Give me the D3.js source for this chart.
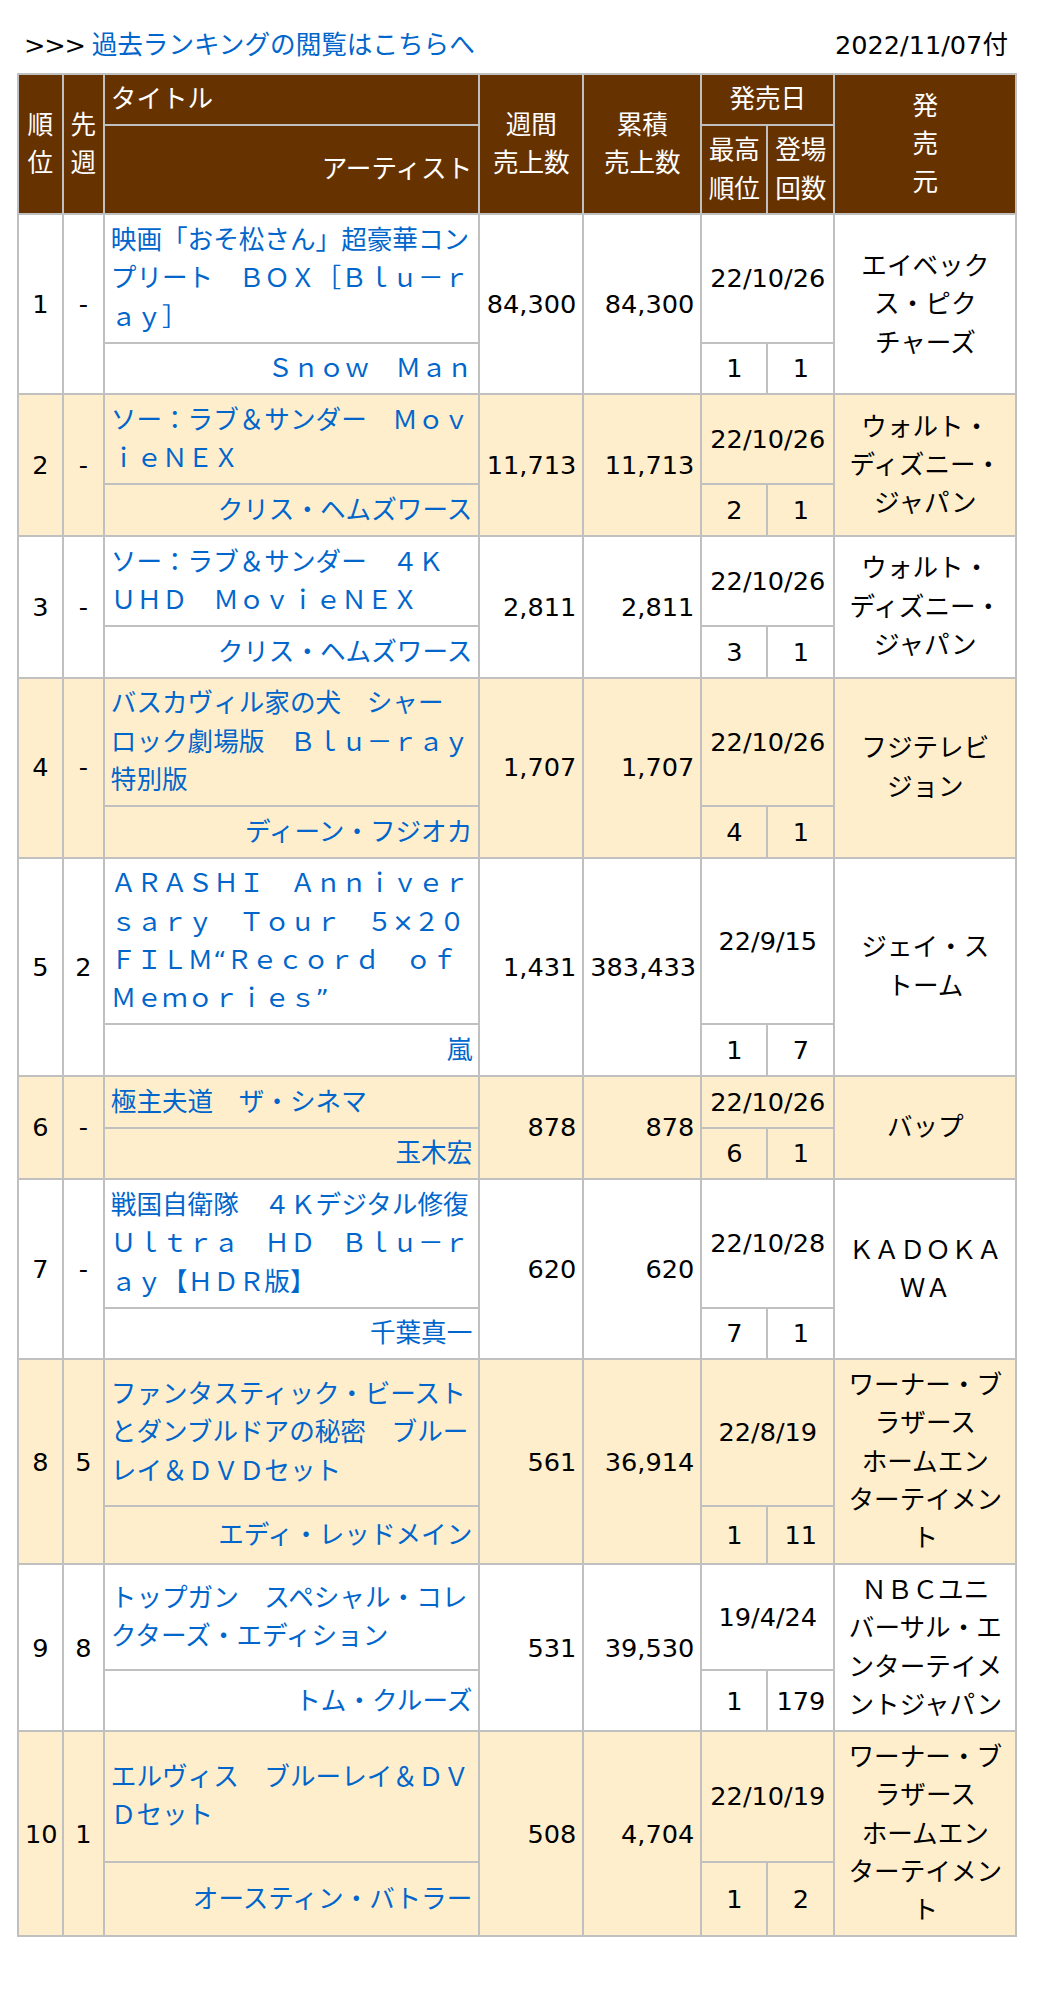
<!DOCTYPE html>
<html lang="ja">
<head>
<meta charset="utf-8">
<script src="https://cdn.jsdelivr.net/npm/d3@7"></script>
<style>
  body { margin: 0; background: #fff; color: #000;
         font-family: "DejaVu Sans", "Noto Sans CJK JP", sans-serif;
         font-size: 25.6px; line-height: 38.4px; }
  #wrap { margin: 26px 0 0 17px; width: 998px; }
  .topbar { height: 38.4px; margin-bottom: 8.6px; padding: 0 7px; }
  .topbar .date { float: right; }
  .topbar .arrows { letter-spacing: -1.2px; }
  a { color: #0066cc; text-decoration: none; }
  table { border-collapse: collapse; table-layout: fixed; width: 998px; }
  th, td { border: 2px solid #c0c0c0; padding: 5.6px 6px; vertical-align: middle;
           line-break: strict; font-weight: normal; text-align: center; }
  th { background: #663300; color: #fff; padding: 5.3px 6px; }
  .alt td { background: #ffeecc; }
  .l { text-align: left; }
  .r { text-align: right; }
</style>
</head>
<body>
<div id="wrap"></div>
<script>
const ranks = [1, 2, 3, 4, 5, 6, 7, 8, 9, 10];
const lastWeek = ["-", "-", "-", "-", "2", "-", "-", "5", "8", "1"];
const titles = [
  "映画「おそ松さん」超豪華コンプリート　ＢＯＸ［Ｂｌｕ－ｒａｙ］",
  "ソー：ラブ＆サンダー　ＭｏｖｉｅＮＥＸ",
  "ソー：ラブ＆サンダー　４Ｋ　ＵＨＤ　ＭｏｖｉｅＮＥＸ",
  "バスカヴィル家の犬　シャーロック劇場版　Ｂｌｕ－ｒａｙ特別版",
  "ＡＲＡＳＨＩ　Ａｎｎｉｖｅｒｓａｒｙ　Ｔｏｕｒ　５×２０　ＦＩＬＭ“Ｒｅｃｏｒｄ　ｏｆ　Ｍｅｍｏｒｉｅｓ”",
  "極主夫道　ザ・シネマ",
  "戦国自衛隊　４Ｋデジタル修復　Ｕｌｔｒａ　ＨＤ　Ｂｌｕ－ｒａｙ【ＨＤＲ版】",
  "ファンタスティック・ビーストとダンブルドアの秘密　ブルーレイ＆ＤＶＤセット",
  "トップガン　スペシャル・コレクターズ・エディション",
  "エルヴィス　ブルーレイ＆ＤＶＤセット"
];
const artists = [
  "Ｓｎｏｗ　Ｍａｎ", "クリス・ヘムズワース", "クリス・ヘムズワース", "ディーン・フジオカ", "嵐",
  "玉木宏", "千葉真一", "エディ・レッドメイン", "トム・クルーズ", "オースティン・バトラー"
];
const weeklySales = [84300, 11713, 2811, 1707, 1431, 878, 620, 561, 531, 508];
const totalSales = [84300, 11713, 2811, 1707, 383433, 878, 620, 36914, 39530, 4704];
const releaseDates = ["22/10/26", "22/10/26", "22/10/26", "22/10/26", "22/9/15",
                      "22/10/26", "22/10/28", "22/8/19", "19/4/24", "22/10/19"];
const peakRanks = [1, 2, 3, 4, 1, 6, 7, 1, 1, 1];
const weeksCharted = [1, 1, 1, 1, 7, 1, 1, 11, 179, 2];
const labels = [
  "エイベックス・ピクチャーズ", "ウォルト・ディズニー・ジャパン", "ウォルト・ディズニー・ジャパン",
  "フジテレビジョン", "ジェイ・ストーム", "バップ", "ＫＡＤＯＫＡＷＡ",
  "ワーナー・ブラザース　ホームエンターテイメント",
  "ＮＢＣユニバーサル・エンターテイメントジャパン",
  "ワーナー・ブラザース　ホームエンターテイメント"
];
const chartDate = "2022/11/07付";
const linkText = "過去ランキングの閲覧はこちらへ";

const fmt = d3.format(",d");
const rows = ranks.map((r, i) => ({
  rank: r, last: lastWeek[i], title: titles[i], artist: artists[i],
  weekly: weeklySales[i], total: totalSales[i], date: releaseDates[i],
  peak: peakRanks[i], weeks: weeksCharted[i], label: labels[i]
}));

const wrap = d3.select("#wrap");
const topBar = wrap.append("div").attr("class", "topbar");
topBar.append("span").attr("class", "date").text(chartDate);
topBar.append("span").attr("class", "arrows").text(">>> ");
topBar.append("a").attr("href", "#").text(linkText);

const table = wrap.append("table");
table.append("colgroup").selectAll("col")
  .data([44.8, 41, 375.5, 104, 118, 66, 67, 182])
  .join("col")
  .style("width", d => d + "px");

// header
const thead = table.append("thead");
const h1 = thead.append("tr");
const h2 = thead.append("tr");
h1.append("th").attr("rowspan", 2).html("順<br>位");
h1.append("th").attr("rowspan", 2).html("先<br>週");
h1.append("th").attr("class", "l").text("タイトル");
h1.append("th").attr("rowspan", 2).html("週間<br>売上数");
h1.append("th").attr("rowspan", 2).html("累積<br>売上数");
h1.append("th").attr("colspan", 2).text("発売日");
h1.append("th").attr("rowspan", 2).html("発<br>売<br>元");
h2.append("th").attr("class", "r").text("アーティスト");
h2.append("th").html("最高<br>順位");
h2.append("th").html("登場<br>回数");

// one tbody per ranking, two rows each
const groups = table.selectAll("tbody")
  .data(rows)
  .join("tbody")
  .attr("class", (d, i) => i % 2 ? "alt" : null);

const r1 = groups.append("tr");
const r2 = groups.append("tr");

r1.append("td").attr("rowspan", 2).text(d => d.rank);
r1.append("td").attr("rowspan", 2).text(d => d.last);
r1.append("td").attr("class", "l").append("a").attr("href", "#").text(d => d.title);
r1.append("td").attr("rowspan", 2).attr("class", "r").text(d => fmt(d.weekly));
r1.append("td").attr("rowspan", 2).attr("class", "r").text(d => fmt(d.total));
r1.append("td").attr("colspan", 2).text(d => d.date);
r1.append("td").attr("rowspan", 2).text(d => d.label);

r2.append("td").attr("class", "r").append("a").attr("href", "#").text(d => d.artist);
r2.append("td").text(d => d.peak);
r2.append("td").text(d => d.weeks);
</script>
</body>
</html>
